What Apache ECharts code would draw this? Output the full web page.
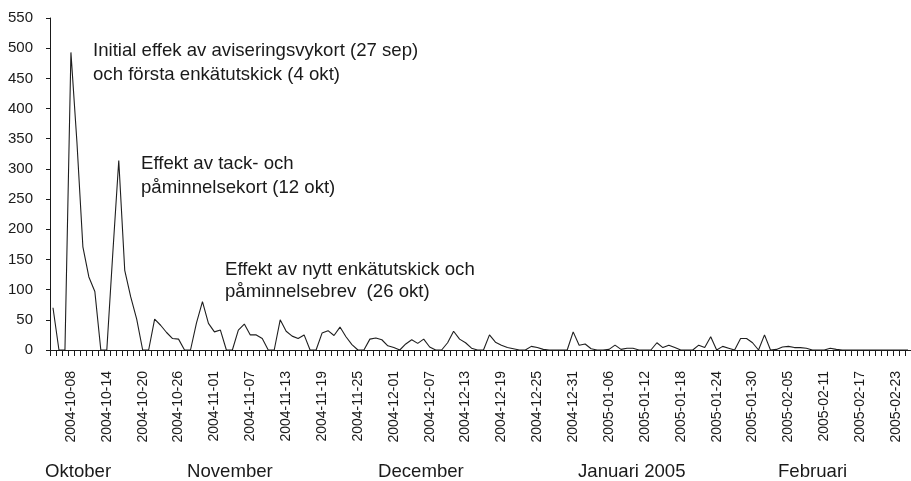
<!DOCTYPE html>
<html>
<head>
<meta charset="utf-8">
<script src="https://cdn.jsdelivr.net/npm/echarts@6/dist/echarts.min.js"></script>
<style>
  html, body { margin: 0; padding: 0; background: #fff; }
  #chart { width: 911px; height: 481px; }
</style>
</head>
<body>
<div id="chart"></div>
<script>
// dagliga svar, 2004-10-05 .. 2005-02-25
const startDate = [2004, 9, 5]
const dayCount = 144

const responses = [
  70, 0, 0, 493, 345, 171, 121, 97, 0, 0,
  160, 314, 132, 88, 51, 0, 0, 51, 41, 29,
  19, 18, 0, 0, 45, 80, 44, 30, 33, 0,
  0, 33, 43, 25, 25, 19, 0, 0, 50, 31,
  23, 19, 25, 0, 0, 28, 32, 24, 38, 22,
  9, 0, 0, 18, 20, 17, 7, 4, 0, 10,
  17, 11, 18, 5, 0, 0, 12, 31, 18, 12,
  3, 0, 0, 25, 13, 8, 4, 2, 0, 0,
  6, 4, 1, 0, 0, 0, 0, 30, 8, 10,
  2, 0, 0, 1, 8, 1, 3, 3, 0, 0,
  0, 12, 4, 8, 4, 0, 0, 0, 8, 4,
  22, 0, 6, 3, 0, 19, 19, 12, 0, 25,
  0, 1, 5, 6, 4, 4, 3, 0, 0, 0,
  3, 1, 0, 0, 0, 0, 0, 0, 0, 0,
  0, 0, 0, 0
]

const yTicks = [0, 550, 50]   // min, max, steg
const labelEvery = 6
const firstLabel = 3          // 2004-10-08

const months = ['Oktober', 'November', 'December', 'Januari 2005', 'Februari']
const monthX = [45, 187, 378, 578, 778]

const notes = [
  ['Initial effek av aviseringsvykort (27 sep)', 'och första enkätutskick (4 okt)'],
  ['Effekt av tack- och', 'påminnelsekort (12 okt)'],
  ['Effekt av nytt enkätutskick och', 'påminnelsebrev  (26 okt)']
]
const notePos = [[93, 51, 75], [141, 164, 188], [225, 270, 292]]

const days = []
for (let i = 0; i < dayCount; i++) {
  const d = new Date(Date.UTC(startDate[0], startDate[1], startDate[2] + i))
  days.push(d.toISOString().slice(0, 10))
}

const font = '"Liberation Sans", Arial, Helvetica, sans-serif'
const ink = '#1a1a1a'

const graphics = []
months.forEach((m, i) => {
  graphics.push({
    type: 'text', left: monthX[i], top: 462,
    style: { text: m, font: `18.6px ${font}`, fill: ink }
  })
})
notes.forEach((lines, i) => {
  lines.forEach((t, j) => {
    graphics.push({
      type: 'text', x: notePos[i][0], y: notePos[i][j + 1],
      style: { text: t, font: `18.6px ${font}`, fill: ink, verticalAlign: 'middle' }
    })
  })
})

const chart = echarts.init(document.getElementById('chart'))
chart.setOption({
  backgroundColor: '#fff',
  animation: false,
  grid: { left: 50, right: 0, top: 18, bottom: 131, containLabel: false },
  xAxis: {
    type: 'category',
    data: days,
    boundaryGap: true,
    axisLine: { lineStyle: { color: ink, width: 1 } },
    axisTick: { show: true, interval: 0, length: 6, lineStyle: { color: ink } },
    axisLabel: {
      rotate: 90,
      margin: 21,
      color: ink,
      fontFamily: font,
      fontSize: 14,
      interval: (idx) => idx >= firstLabel && (idx - firstLabel) % labelEvery === 0
    },
    splitLine: { show: false }
  },
  yAxis: {
    type: 'value',
    min: yTicks[0],
    max: yTicks[1],
    interval: yTicks[2],
    axisLine: { show: true, lineStyle: { color: ink, width: 1 } },
    axisTick: { show: true, length: 4, lineStyle: { color: ink } },
    axisLabel: { color: ink, fontFamily: font, fontSize: 15, margin: 17 },
    splitLine: { show: false }
  },
  series: [{
    type: 'line',
    data: responses,
    symbol: 'none',
    lineStyle: { color: '#1e1e1e', width: 1.1 }
  }],
  graphic: graphics
})
</script>
</body>
</html>
